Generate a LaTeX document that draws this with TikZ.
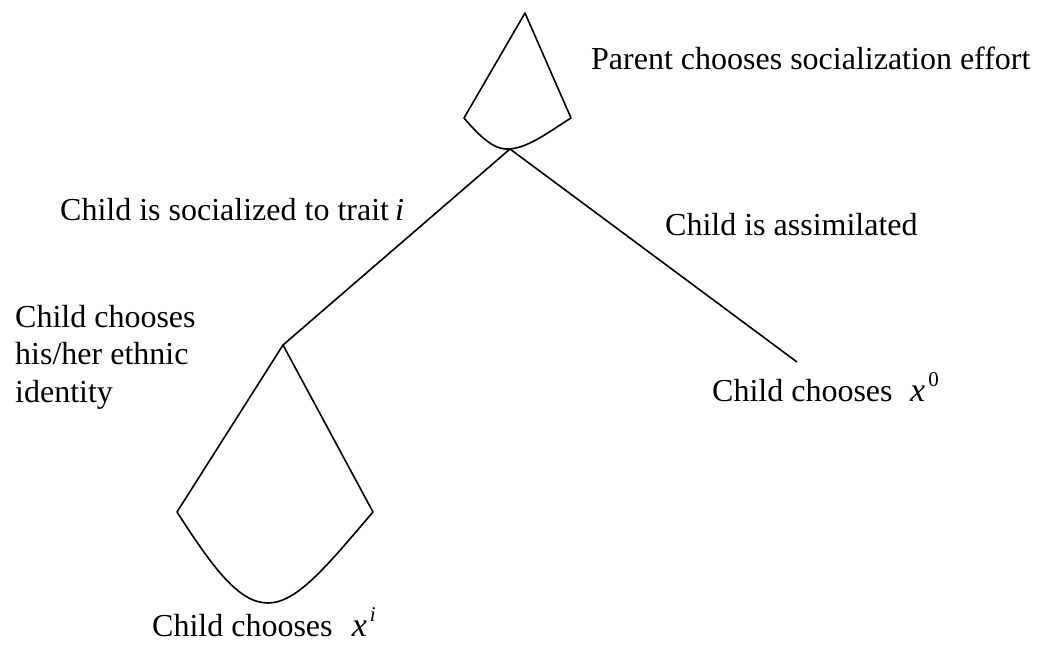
\documentclass[tikz,border=0pt]{standalone}
\usepackage{fontspec}
\setmainfont{Liberation Serif}
\usepackage{tikz}
\usetikzlibrary{positioning}

\newcommand{\supvar}[1]{\textit{\fontsize{34}{34}\selectfont x}\hspace{3pt}\raisebox{15pt}{\fontsize{21}{21}\selectfont #1}}

\begin{document}
\begin{tikzpicture}[
    x=1pt, y=-1pt,
    branch/.style={line width=1.6pt, line join=round},
    label/.style={anchor=base west, inner sep=0pt, font=\fontsize{32}{37.5}\selectfont, align=left},
]
\useasboundingbox (0,0) rectangle (1039,649);

% decision nodes of the tree
\coordinate (parent) at (510,149);
\coordinate (child) at (283,345);
\coordinate (assim) at (797,362);

% information sets
\draw[branch] (parent) .. controls (530,147) and (550,131) .. (571,118) -- (525,13) -- (464,118)
    .. controls (486,144) and (498,150) .. (parent);
\draw[branch] (child) -- (373,512) .. controls (330,562) and (298,603) .. (268,603)
    .. controls (238,603) and (212,566) .. (177,512) -- cycle;

% branches
\draw[branch] (parent) -- (child);
\draw[branch] (parent) -- (assim);

% labels
\node[label] (parentlbl) at (591,69) {Parent chooses socialization effort};
\node[label] (traitlbl) at (60,220) {Child is socialized to trait\hspace{-2pt} \textit{i}};
\node[label] (assimlbl) at (665,235) {Child is assimilated};
\node[label] (zerolbl) at (712,401) {Child chooses\hspace{0.55em}\supvar{0}};
\node[label] (identlbl) at (15,402) {Child chooses\\his/her ethnic\\identity};
\node[label] (ilbl) at (152,636) {Child chooses\hspace{0.6em}\supvar{\textit{i}}};

\end{tikzpicture}
\end{document}
